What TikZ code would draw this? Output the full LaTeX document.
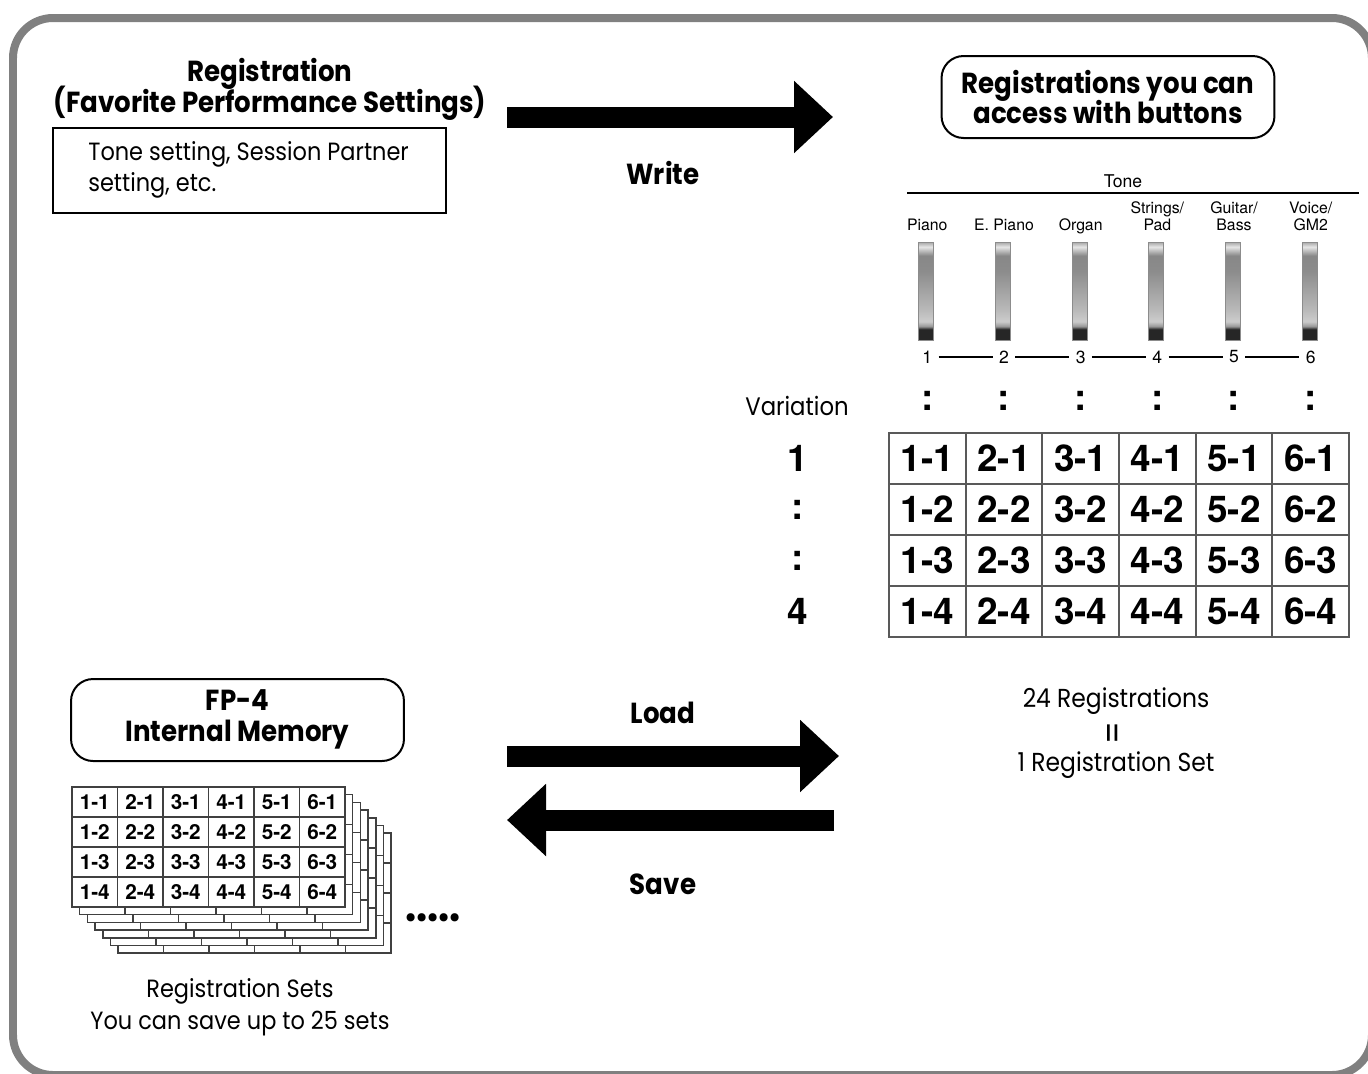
\documentclass[tikz,border=0pt]{standalone}
\usepackage{fontspec}
\setmainfont{Poppins}
\newfontfamily\futura{Poppins}[FakeStretch=0.9]
\newfontfamily\helv{TeX Gyre Heros}
\usetikzlibrary{arrows.meta, positioning, calc}
\newcommand\tightlines{\lineskiplimit=-20pt\relax}

\pgfdeclareverticalshading{btnshade}{100bp}{color(0bp)=(black!85); color(25bp)=(black!85); color(30.5bp)=(black!85); color(32bp)=(black!40); color(34.5bp)=(black!20); color(41bp)=(black!28); color(60bp)=(black!45); color(68bp)=(black!47); color(72.5bp)=(black!10); color(75bp)=(black!35); color(100bp)=(black!35)}

\tikzset{
  frame/.style={draw=black!50, line width=0.16cm, rounded corners=0.8cm},
  headbox/.style={draw, line width=0.04cm, rounded corners=0.44cm, minimum width=6.66cm, minimum height=1.64cm, inner sep=0pt},
  bigarrow/.style={line width=0.42cm, -{Triangle[length=0.78cm, width=1.4cm]}},
  heading/.style={font=\futura\bfseries\fontsize{16.5}{17.6}\selectfont\tightlines, align=center},
  body/.style={font=\futura\fontsize{14.2}{18}\selectfont},
  bigcell/.style={draw=black!65, line width=0.04cm, minimum width=1.533cm, minimum height=1.02cm, inner sep=0pt, font=\helv\bfseries\fontsize{21}{21}\selectfont},
  smallcell/.style={draw=black!75, fill=white, line width=0.03cm, minimum width=0.91cm, minimum height=0.6cm, inner sep=0pt, font=\helv\bfseries\fontsize{11.8}{12}\selectfont},
  tonelabel/.style={font=\helv\fontsize{9}{9.6}\selectfont, align=center, anchor=south, inner sep=0pt, text depth=0pt},
  tonebutton/.style={draw=black!45, line width=0.02cm, shading=btnshade, minimum width=0.3cm, minimum height=1.96cm, inner sep=0pt},
  tonenum/.style={font=\helv\fontsize{10}{10}\selectfont, inner sep=0.12cm},
  varmark/.style={font=\helv\bfseries\fontsize{21}{21}\selectfont}
}

\begin{document}
\begin{tikzpicture}[x=0.02cm, y=-0.02cm]
\clip (0,0) rectangle (1368,1073);
% outer frame
\draw[frame] (13,18) rectangle (1372,1075);

% registration source
\node[heading] (regtitle) at (270,89) {Registration\\(Favorite Performance Settings)};
\node[draw, line width=0.04cm, minimum width=7.86cm, minimum height=1.7cm] (regbox) at (249.5,170) {};
\node[body, align=left, anchor=west, inner sep=0pt] (regtext) at (88,170) {Tone setting, Session Partner\\setting, etc.};

% write arrow
\coordinate (wstart) at (507,117);
\coordinate (wend) at (833,117);
\draw[bigarrow] (wstart) -- (wend);
\node[heading] (write) at (663,173) {Write};

% registrations on the buttons
\node[headbox] (btnbox) at (1108,97) {};
\node[heading] (btntext) at (1108,97) {Registrations you can\\access with buttons};

% tone buttons
\node[font=\helv\fontsize{10}{10}\selectfont, anchor=base] (tone) at (1123,187) {Tone};
\coordinate (tl) at (907,193);
\coordinate (tr) at (1359,193);
\draw[line width=0.04cm] (tl) -- (tr);
\foreach \c/\lbl in {1/{Piano}, 2/{E. Piano}, 3/{Organ}, 4/{Strings/\\Pad}, 5/{Guitar/\\Bass}, 6/{Voice/\\GM2}} {
  \node[tonelabel] (lbl\c) at ({927.3+76.67*(\c-1)},231) {\lbl};
  \node[tonebutton] (b\c) at ({926.3+76.67*(\c-1)},291) {};
  \node[tonenum] (n\c) at ({927.3+76.67*(\c-1)},357) {\c};
  \node[varmark] (col\c) at ({927.3+76.67*(\c-1)},401) {:};
}
\foreach \a/\b in {1/2, 2/3, 3/4, 4/5, 5/6}
  \draw[line width=0.03cm] (n\a) -- (n\b);

% variation table
\node[body, font=\futura\fontsize{14.4}{14}\selectfont] (variation) at (797,406) {Variation};
\foreach \r/\v in {1/1, 2/:, 3/:, 4/4}
  \node[varmark] (v\r) at (798,{433+51*(\r-0.5)}) {\v};
\foreach \c in {1,...,6} {
  \foreach \r in {1,...,4} {
    \node[bigcell] (t\c\r) at ({889+76.67*(\c-0.5)},{433+51*(\r-0.5)}) {\c-\r};
  }
}

% one set
\node[body, font=\futura\fontsize{14.8}{14}\selectfont] (count) at (1116,701) {24 Registrations};
\node[body, font=\futura\fontsize{20}{20}\selectfont, rotate=90] (equals) at (1116,733) {=};
\node[body, font=\futura\fontsize{14.8}{14}\selectfont] (oneset) at (1116,765) {1 Registration Set};

% internal memory
\node[headbox] (membox) at (237.5,720) {};
\node[heading] (memtext) at (237.5,719) {FP-4\\Internal Memory};

% load / save arrows
\coordinate (lstart) at (507,756);
\coordinate (lend) at (839,756);
\draw[bigarrow] (lstart) -- (lend);
\node[heading] (load) at (663,713) {Load};
\coordinate (sstart) at (834,820);
\coordinate (send) at (507,820);
\draw[bigarrow] (sstart) -- (send);
\node[heading] (save) at (663,884) {Save};

% stacked registration sets, back layers first
\foreach \k in {6,5,...,1} {
  \foreach \c in {1,...,6} {
    \foreach \r in {1,...,4} {
      \node[smallcell] (s\k\c\r) at ({72+45.5*(\c-0.5)+7.7*\k},{787+30*(\r-0.5)+7.7*\k}) {};
    }
  }
}
\foreach \c in {1,...,6} {
  \foreach \r in {1,...,4} {
    \node[smallcell] (s0\c\r) at ({72+45.5*(\c-0.5)},{787+30*(\r-0.5)}) {\c-\r};
  }
}
\node[heading, font=\futura\bfseries\fontsize{25}{25}\selectfont, anchor=base] (more) at (433,921) {.....};
\node[body, align=center] (setstext) at (240,1007) {Registration Sets\\You can save up to 25 sets};
\end{tikzpicture}
\end{document}
